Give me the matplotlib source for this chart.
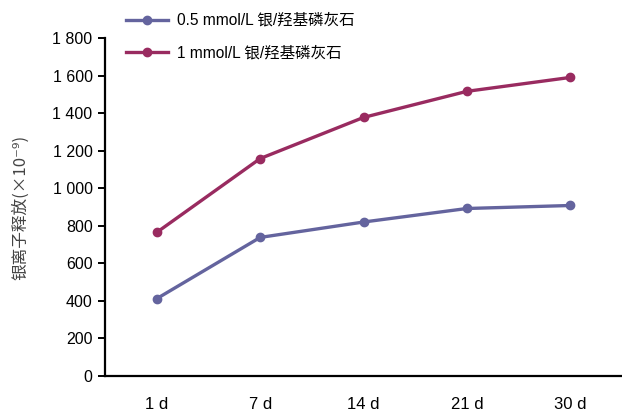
import matplotlib
matplotlib.use('Agg')
import matplotlib.pyplot as plt
from matplotlib.ticker import FuncFormatter

plt.rcParams['font.family'] = ['Liberation Sans', 'Noto Sans CJK SC', 'DejaVu Sans']

days = ['1 d', '7 d', '14 d', '21 d', '30 d']
low_dose = [412, 738, 820, 892, 908]
high_dose = [765, 1158, 1377, 1516, 1590]
labels = ['0.5 mmol/L 银/羟基磷灰石', '1 mmol/L 银/羟基磷灰石']
colors = ['#64649e', '#992b60']

fig = plt.figure(figsize=(6.22, 4.13), dpi=100)
ax = fig.add_axes([0.169, 0.0896, 0.831, 0.8184])

x = range(len(days))
for ys, lab, c in zip([low_dose, high_dose], labels, colors):
    ax.plot(x, ys, color=c, lw=2.4, marker='o', ms=6, label=lab)

ax.set_xlim(-0.5, 4.5)
ax.set_ylim(0, 1800)
ax.set_yticks(range(0, 1801, 200))
ax.yaxis.set_major_formatter(FuncFormatter(lambda v, p: f'{int(v):,}'.replace(',', ' ')))
ax.set_xticks(list(x))
ax.set_xticklabels(days)

for s in ['top', 'right']:
    ax.spines[s].set_visible(False)
for s in ['left', 'bottom']:
    ax.spines[s].set_linewidth(1.6)
ax.tick_params(axis='y', length=5, width=1.4, labelsize=11.5, pad=4)
ax.tick_params(axis='x', length=0, labelsize=12, pad=15)

ax.set_ylabel('银离子释放(×10⁻⁹)', fontsize=12, color='#444444', labelpad=17,
              family=['Noto Sans CJK SC', 'DejaVu Sans'])

ax.legend(loc='upper left', bbox_to_anchor=(0.185, 0.995), bbox_transform=fig.transFigure,
          frameon=False, fontsize=11.2, handlelength=2.7, handletextpad=0.6,
          labelspacing=1.15, borderpad=0.2)

fig.savefig('out.png', dpi=100)
